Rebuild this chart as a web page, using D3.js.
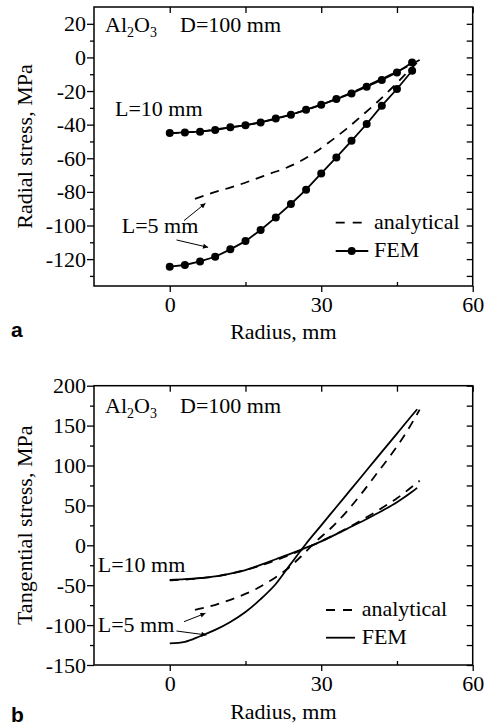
<!DOCTYPE html>
<html>
<head>
<meta charset="utf-8">
<script src="https://cdn.jsdelivr.net/npm/d3@7"></script>
<style>
  body { margin: 0; background: #fff; }
  text { font-family: "Liberation Serif", "Times New Roman", serif; fill: #000; }
</style>
</head>
<body>
<svg id="chart" width="490" height="725"></svg>
<script>
// ---- data ----
// panel a: radial stress
const femRadius = [0, 3, 6, 9, 12, 15, 18, 21, 24, 27, 30, 33, 36, 39, 42, 45, 48];
const radialFem10 = [-45.0, -44.6, -44.2, -43.2, -41.6, -40.3, -38.7, -36.3, -34.1, -31.1, -28.1, -24.8, -21.4, -17.4, -13.4, -8.9, -3.0];
const radialFem5 = [-124.5, -123.5, -121.4, -118.6, -114.2, -109.3, -102.7, -95.2, -87.2, -78.7, -69.0, -59.5, -49.6, -39.6, -28.7, -18.8, -7.9];

const anaRadius10 = [0, 5, 10, 15, 20, 25, 30, 35, 40, 45, 49.5];
const anaRadius5 = [5, 8, 11, 14, 17, 20, 23, 26, 29, 32, 35, 38, 41, 44, 47, 49.5];
const radialAna10 = [-45, -44.3, -42.4, -40.3, -37.3, -33.2, -28.2, -22.2, -15.5, -8.5, -1.5];
const radialAna5 = [-84.2, -81, -78.3, -75.5, -72.3, -69, -65.8, -61.5, -56, -49.5, -42.5, -34.8, -26.8, -18.2, -9, -1.5];

// panel b: tangential stress
const femRadiusB = [0, 3, 6, 9, 12, 15, 18, 21, 24, 27, 30, 33, 36, 39, 42, 45, 48, 49];
const tangFem10 = [-43.5, -42.5, -41, -39, -35.5, -31, -24.5, -17.5, -10.5, -3, 5, 14, 23.5, 33, 43, 54, 67, 72];
const tangFem5 = [-123, -121, -114, -106, -96, -83.5, -67.5, -48.5, -23, 2, 25, 48, 71, 94, 117, 140, 163, 170.5];
const tangAna10 = [-44, -42, -38, -31, -21, -9, 5, 21, 39, 59, 81];
const tangAna5 = [-81, -76.5, -70.5, -63.5, -55, -44, -31, -14, 5, 22, 42, 65, 90, 115, 143, 170];

const xMajor = [0, 30, 60];
const xMinor = [15, 45];
const yMajorA = [-120, -100, -80, -60, -40, -20, 0, 20];
const yMinorA = [-130, -110, -90, -70, -50, -30, -10, 10];
const yMajorB = [-150, -100, -50, 0, 50, 100, 150, 200];
const yMinorB = [-125, -75, -25, 25, 75, 125, 175];

const zip = (xs, ys) => xs.map((d, i) => [d, ys[i]]);

const svg = d3.select("#chart");
const left = 94, right = 472.7;
const x = d3.scaleLinear().domain([-15, 60]).range([left, right]);

svg.append("defs").append("marker")
  .attr("id", "arr")
  .attr("viewBox", "0 0 10 10")
  .attr("refX", 10).attr("refY", 5)
  .attr("markerWidth", 8).attr("markerHeight", 5)
  .attr("markerUnits", "userSpaceOnUse")
  .attr("orient", "auto")
  .append("path").attr("d", "M0,0L10,5L0,10z").attr("fill", "#000");

function panel(top, bottom, yDomain, yMajor, yMinor) {
  const y = d3.scaleLinear().domain(yDomain).range([bottom, top]);
  const g = svg.append("g");
  const fix = sel => {
    sel.select(".domain").remove();
    sel.selectAll("line").attr("stroke", "#000").attr("stroke-width", 1.3);
    sel.selectAll("text").attr("font-family", "Liberation Serif, Times New Roman, serif").attr("font-size", 22).attr("fill", "#000");
  };

  g.append("g").attr("transform", `translate(${left},0)`)
    .call(d3.axisLeft(y).tickValues(yMajor).tickSize(7).tickPadding(1).tickFormat(d => String(d))).call(fix);
  g.append("g").attr("transform", `translate(${left},0)`)
    .call(d3.axisLeft(y).tickValues(yMinor).tickSize(4).tickFormat("")).call(fix);
  g.append("g").attr("transform", `translate(${right},0)`)
    .call(d3.axisRight(y).tickValues(yMajor.concat(yMinor)).tickSize(-6).tickFormat("")).call(fix);

  g.append("g").attr("transform", `translate(0,${bottom})`)
    .call(d3.axisBottom(x).tickValues(xMajor).tickSize(6).tickPadding(4.5).tickFormat(d => String(d))).call(fix);
  g.append("g").attr("transform", `translate(0,${bottom})`)
    .call(d3.axisBottom(x).tickValues(xMinor).tickSize(-4).tickFormat("")).call(fix);
  g.append("g").attr("transform", `translate(0,${top})`)
    .call(d3.axisTop(x).tickValues(xMajor.concat(xMinor)).tickSize(-6).tickFormat("")).call(fix);

  g.append("rect")
    .attr("x", left).attr("y", top)
    .attr("width", right - left).attr("height", bottom - top)
    .attr("fill", "none").attr("stroke", "#000").attr("stroke-width", 1.5);

  return { g, y };
}

function curve(g, y, pts, dashed, smooth) {
  const line = d3.line().x(d => x(d[0])).y(d => y(d[1]))
    .curve(smooth ? d3.curveMonotoneX : d3.curveLinear);
  g.append("path").datum(pts)
    .attr("d", line)
    .attr("fill", "none")
    .attr("stroke", "#000")
    .attr("stroke-width", 1.8)
    .attr("stroke-dasharray", dashed ? "9,7" : null);
}

function arrow(g, y, x1, y1, x2, y2) {
  g.append("line")
    .attr("x1", x(x1)).attr("y1", y(y1))
    .attr("x2", x(x2)).attr("y2", y(y2))
    .attr("stroke", "#000").attr("stroke-width", 1)
    .attr("marker-end", "url(#arr)");
}

function material(g, px, base) {
  const t = g.append("text").attr("x", px).attr("y", base).attr("font-size", 22);
  t.append("tspan").text("Al");
  t.append("tspan").attr("font-size", 14).attr("dy", 5).text("2");
  t.append("tspan").attr("dy", -5).text("O");
  t.append("tspan").attr("font-size", 14).attr("dy", 5).text("3");
  g.append("text").attr("x", 180).attr("y", base).attr("font-size", 22).text("D=100 mm");
}

// ---- panel a ----
const A = panel(7, 286, [-136, 30], yMajorA, yMinorA);
curve(A.g, A.y, zip(anaRadius10, radialAna10), true, true);
curve(A.g, A.y, zip(anaRadius5, radialAna5), true, true);
curve(A.g, A.y, zip(femRadius, radialFem10), false, false);
curve(A.g, A.y, zip(femRadius, radialFem5), false, false);
[radialFem10, radialFem5].forEach(s => {
  A.g.selectAll(null).data(zip(femRadius, s)).enter().append("circle")
    .attr("cx", d => x(d[0])).attr("cy", d => A.y(d[1])).attr("r", 4).attr("fill", "#000");
});
material(A.g, 105, 32.3);
A.g.append("text").attr("x", 115).attr("y", 116).attr("font-size", 22).text("L=10 mm");
A.g.append("text").attr("x", 121.7).attr("y", 233.3).attr("font-size", 22).text("L=5 mm");
arrow(A.g, A.y, 2.83, -97.1, 7.07, -86.8);
arrow(A.g, A.y, 1.33, -108.6, 7.6, -113);

// legend a
A.g.append("line").attr("x1", 335.7).attr("x2", 365).attr("y1", 222.7).attr("y2", 222.7)
  .attr("stroke", "#000").attr("stroke-width", 1.8).attr("stroke-dasharray", "9,8");
A.g.append("text").attr("x", 374).attr("y", 229).attr("font-size", 22).text("analytical");
A.g.append("line").attr("x1", 335.7).attr("x2", 368.3).attr("y1", 251).attr("y2", 251)
  .attr("stroke", "#000").attr("stroke-width", 1.8);
A.g.append("circle").attr("cx", 351.7).attr("cy", 251).attr("r", 4).attr("fill", "#000");
A.g.append("text").attr("x", 374).attr("y", 256.7).attr("font-size", 22).text("FEM");

svg.append("text").attr("transform", "rotate(-90)")
  .attr("x", -146.5).attr("y", 31.7).attr("text-anchor", "middle").attr("font-size", 22)
  .text("Radial stress, MPa");
svg.append("text").attr("x", x(22.5)).attr("y", 339).attr("text-anchor", "middle").attr("font-size", 22)
  .text("Radius, mm");
svg.append("text").attr("x", 11).attr("y", 337).attr("font-size", 21).attr("font-weight", "bold")
  .style("font-family", "Liberation Sans, Arial, sans-serif").text("a");

// ---- panel b ----
const B = panel(385.7, 665, [-150, 200], yMajorB, yMinorB);
curve(B.g, B.y, zip(anaRadius10, tangAna10), true, true);
curve(B.g, B.y, zip(anaRadius5, tangAna5), true, true);
curve(B.g, B.y, zip(femRadiusB, tangFem10), false, true);
curve(B.g, B.y, zip(femRadiusB, tangFem5), false, true);
material(B.g, 105, 413);
B.g.append("text").attr("x", 97.7).attr("y", 572.3).attr("font-size", 22).text("L=10 mm");
B.g.append("text").attr("x", 97.7).attr("y", 631.7).attr("font-size", 22).text("L=5 mm");
arrow(B.g, B.y, 2.83, -95.7, 7.07, -85.2);
arrow(B.g, B.y, 1.33, -107.4, 7.27, -112.4);

// legend b
B.g.append("line").attr("x1", 326).attr("x2", 355).attr("y1", 610).attr("y2", 610)
  .attr("stroke", "#000").attr("stroke-width", 1.8).attr("stroke-dasharray", "9,8");
B.g.append("text").attr("x", 361.7).attr("y", 616).attr("font-size", 22).text("analytical");
B.g.append("line").attr("x1", 326).attr("x2", 355).attr("y1", 637.7).attr("y2", 637.7)
  .attr("stroke", "#000").attr("stroke-width", 1.8);
B.g.append("text").attr("x", 361.7).attr("y", 643.5).attr("font-size", 22).text("FEM");

svg.append("text").attr("transform", "rotate(-90)")
  .attr("x", -525.3).attr("y", 31.7).attr("text-anchor", "middle").attr("font-size", 22)
  .text("Tangential stress, MPa");
svg.append("text").attr("x", x(22.5)).attr("y", 719).attr("text-anchor", "middle").attr("font-size", 22)
  .text("Radius, mm");
svg.append("text").attr("x", 11).attr("y", 722).attr("font-size", 21).attr("font-weight", "bold")
  .style("font-family", "Liberation Sans, Arial, sans-serif").text("b");
</script>
</body>
</html>
